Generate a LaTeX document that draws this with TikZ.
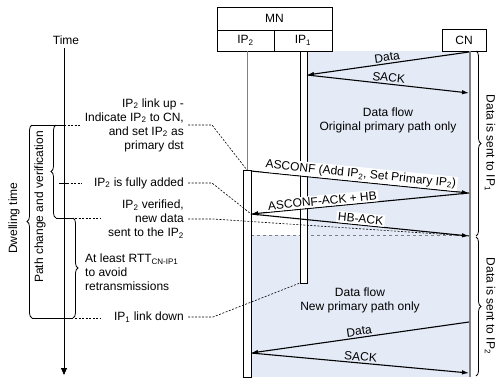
\documentclass[tikz,border=0pt]{standalone}
\usepackage{fontspec}
\setmainfont{Liberation Sans}
\usetikzlibrary{arrows.meta,decorations.pathreplacing}
\definecolor{flow}{RGB}{228,235,247}
\newcommand{\IPone}{IP\textsubscript{1}}
\newcommand{\IPtwo}{IP\textsubscript{2}}

\begin{document}
\begin{tikzpicture}[x=1pt,y=-1pt,font=\fontsize{12}{14}\selectfont,
    >={Latex[length=7pt,width=4.5pt]},
    box/.style={draw,line width=.8pt,inner sep=0pt},
    life/.style={gray,line width=1pt},
    msg/.style={line width=1.1pt},
    lbl/.style={midway,above,sloped,inner sep=1.5pt},
    note/.style={inner sep=1pt},
    conn/.style={dash pattern=on 2pt off 1.5pt,line width=.6pt},
    brc/.style={decorate,decoration={brace,amplitude=5pt},line width=.8pt}]
  \useasboundingbox (0,0) rectangle (497,377);
  \fill[flow] (307,51) rectangle (469,235);
  \fill[flow] (251,235) rectangle (469,377);
  \draw[gray,dashed,thin] (251,235) -- (469,235);

  \node[box,minimum width=115,minimum height=23] (mn) at (274.5,18.5) {MN};
  \node[box,minimum width=57,minimum height=21] (ip2h) at (245.5,40.5) {\IPtwo};
  \node[box,minimum width=58,minimum height=21] (ip1h) at (303,40.5) {\IPone};
  \node[box,minimum width=44,minimum height=22] (cnh) at (464,40) {CN};

  \coordinate (ip2top) at (247,170);
  \coordinate (ip1bot) at (300,283);
  \coordinate (cnbot) at (470,377);
  \draw[life] (ip2top |- ip2h.south) -- (ip2top);
  \draw[line width=.8pt,fill=white] (243,170) rectangle (251,377);
  \draw[line width=.8pt,fill=white] (300,51) rectangle (307,283);
  \draw[gray,line width=2pt] (cnbot |- cnh.south) -- (cnbot);

  \coordinate (c1) at (469,52);
  \coordinate (p1) at (307,75);
  \coordinate (c2) at (469,93);
  \coordinate (q1) at (251,171);
  \coordinate (c3) at (469,193);
  \coordinate (q2) at (251,214);
  \coordinate (c4) at (469,236);
  \coordinate (c5) at (469,322);
  \coordinate (q3) at (251,353);
  \coordinate (c6) at (469,373);
  \draw[msg,<-] (p1) -- (c1) node[lbl]{Data};
  \draw[msg,->] (p1) -- (c2) node[lbl]{SACK};
  \draw[msg,->] (q1) -- (c3) node[lbl,fill=white]{ASCONF (Add \IPtwo, Set Primary \IPtwo)};
  \draw[msg,<-] (q2) -- (c3) node[lbl,pos=.33,fill=white]{ASCONF-ACK + HB};
  \draw[msg,->] (q2) -- (c4) node[lbl,fill=white]{HB-ACK};
  \draw[msg,<-] (q3) -- (c5) node[lbl]{Data};
  \draw[msg,->] (q3) -- (c6) node[lbl]{SACK};

  \node[align=center] (flow1) at (388,120) {Data flow\\Original primary path only};
  \node[align=center] (flow2) at (360,300) {Data flow\\New primary path only};

  \draw[brc] (476,51) -- (476,236);
  \draw[brc] (476,237) -- (476,376);
  \node[rotate=-90] (sent1) at (490,143) {Data is sent to \IPone};
  \node[rotate=-90] (sent2) at (490,306) {Data is sent to \IPtwo};

  % time axis and intervals
  \node (time) at (66,40) {Time};
  \coordinate (tend) at (64,375);
  \draw[line width=.8pt,-{Triangle[length=7pt,width=6pt]}] (tend |- time.south) -- (tend);
  \draw[brc] (32,318) -- (32,125);
  \draw[brc] (56,218) -- (56,125);
  \draw[brc] (73,218) -- (73,318);
  \draw[line width=.8pt] (32,125) -- (64,125);
  \draw[line width=.8pt] (56,218) -- (73,218);
  \draw[line width=.8pt] (32,318) -- (73,318);
  \draw[line width=.8pt] (59,183) -- (67,183);
  \draw[conn] (64,125) -- (80,125);
  \draw[conn] (67,183) -- (82,183);
  \draw[conn] (75,218) -- (100,218);
  \draw[conn] (75,318) -- (100,318);
  \node[rotate=90] (dwell) at (14,218) {Dwelling time};
  \node[rotate=90] (pchg) at (40,207) {Path change and verification};

  \node[note,anchor=east,align=right] (linkup) at (185,125) {\IPtwo\ link up -\\Indicate \IPtwo\ to CN,\\and set \IPtwo\ as\\primary dst};
  \node[note,anchor=east] (added) at (185,183) {\IPtwo\ is fully added};
  \node[note,anchor=east,align=right] (verif) at (185,219) {\IPtwo\ verified,\\new data\\sent to the \IPtwo};
  \node[note,anchor=west,align=left] (rtt) at (84,272) {At least RTT\textsubscript{CN-IP1}\\to avoid\\retransmissions};
  \node[note,anchor=east] (down) at (185,317) {\IPone\ link down};
  \draw[conn] (linkup.east) ++(3,0) -- (212,125) -- (ip2top);
  \draw[conn] (added.east) ++(3,0) -- (212,183) -- (q2);
  \draw[conn] (verif.east) ++(3,0) -- (213,219) -- (c4);
  \draw[conn] (down.east) ++(3,0) -- (213,317) -- (ip1bot);
\end{tikzpicture}
\end{document}
